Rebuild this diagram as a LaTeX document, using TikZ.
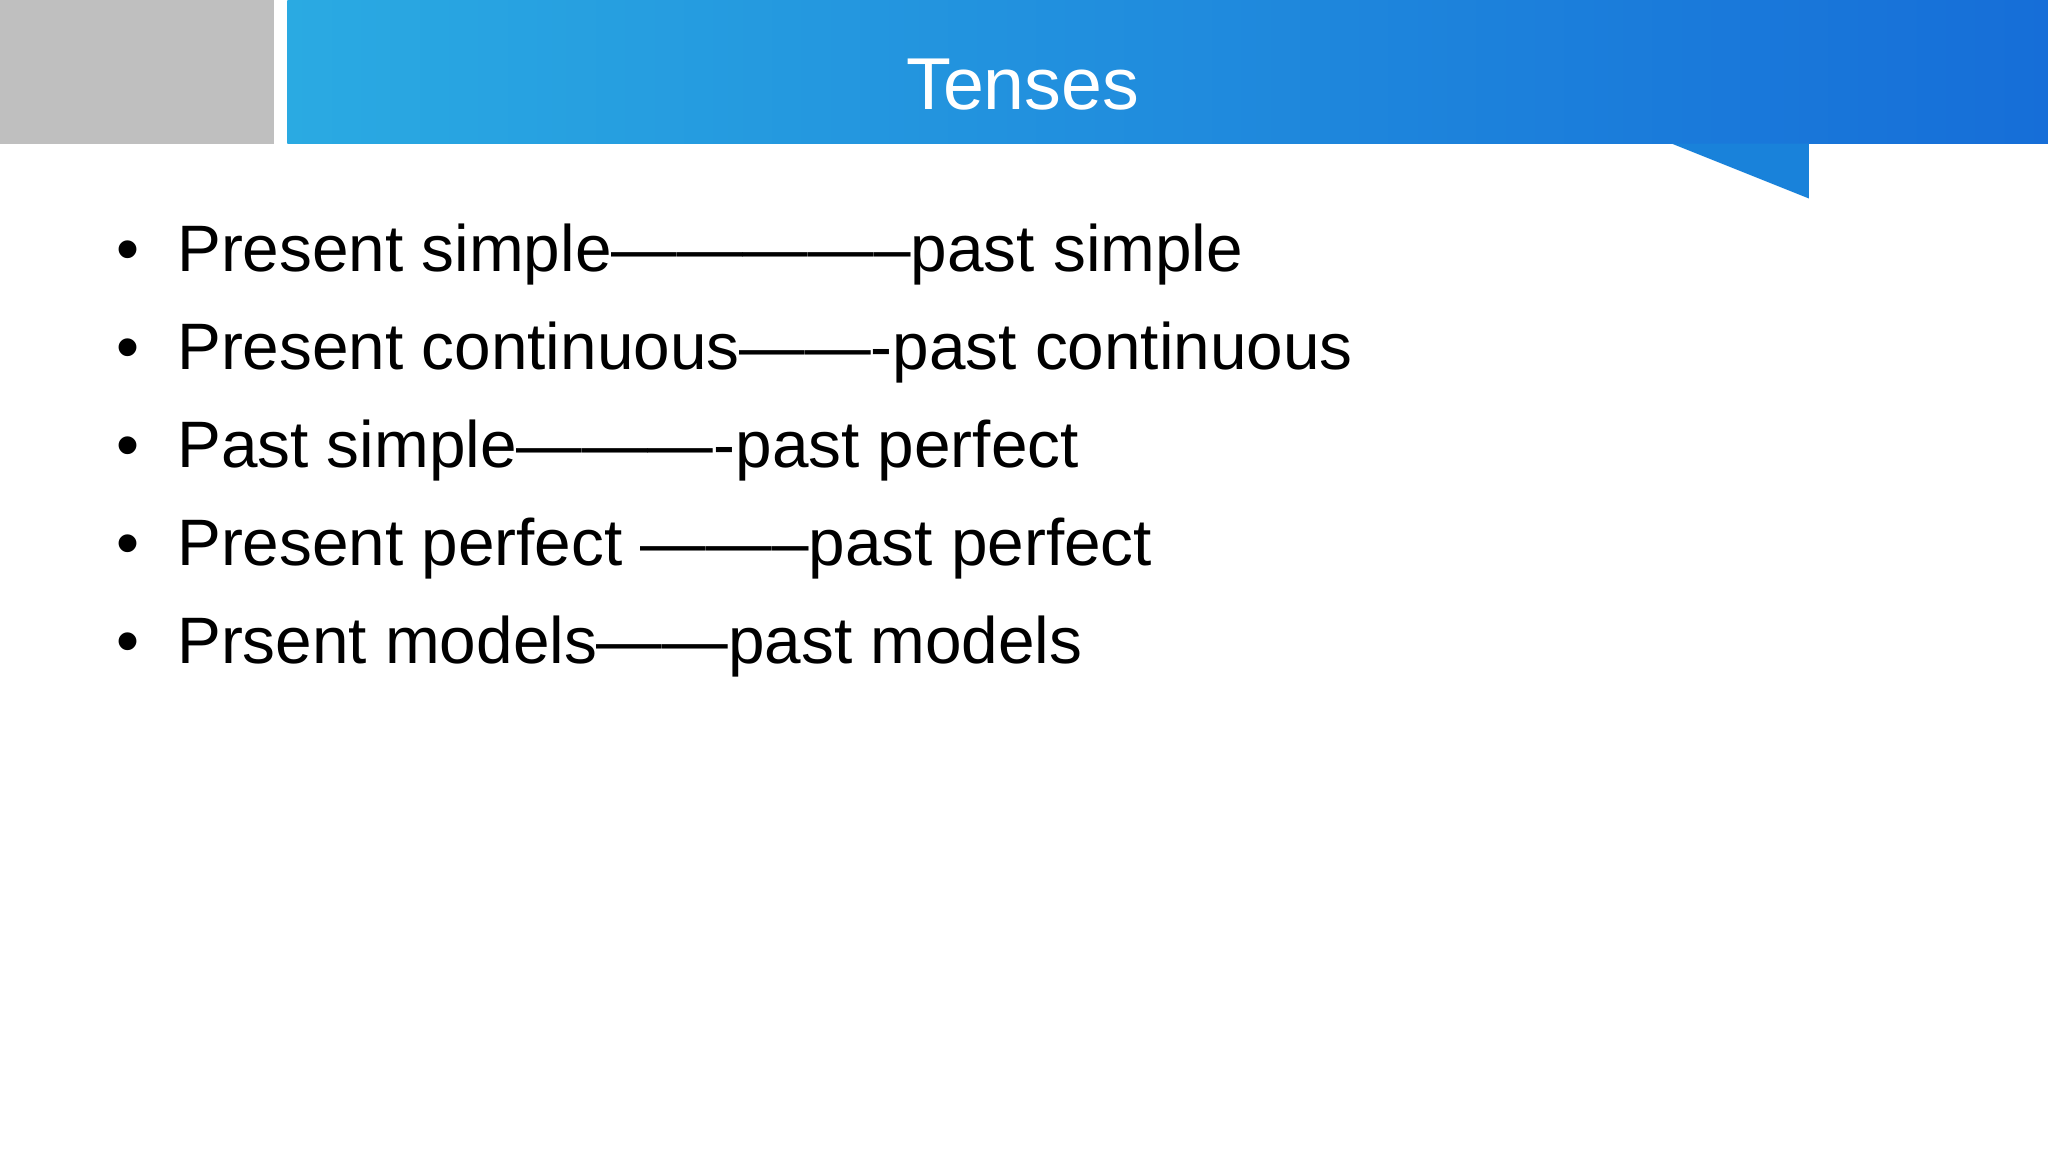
\documentclass[tikz,border=0pt]{standalone}
\usepackage{fontspec}
\setmainfont{Liberation Sans}
\definecolor{bleft}{RGB}{42,170,226}
\definecolor{bright}{RGB}{22,110,216}
\definecolor{btab}{RGB}{25,130,218}
\begin{document}
\begin{tikzpicture}[x=0.01cm,y=-0.01cm,
  item/.style={anchor=base west,inner sep=0pt,font=\fontsize{14.3pt}{16pt}\selectfont},
  bul/.style={anchor=base,inner sep=0pt,font=\fontsize{14.3pt}{16pt}\selectfont}]
\useasboundingbox (0,0) rectangle (1568,882);
\fill[white] (0,0) rectangle (1568,882);
\fill[gray!50] (0,0) rectangle (210,110);
\shade[left color=bleft, right color=bright] (220,0) rectangle (1568,110);
\fill[btab] (1280,110) -- (1385,152) -- (1385,110) -- cycle;
\node[white,font=\fontsize{16pt}{18pt}\selectfont] (title) at (783,65) {Tenses};
\foreach \y/\t [count=\i] in {208/{Present simple--------------past simple},
  283/{Present continuous-------past continuous},
  358/{Past simple----------past perfect},
  433/{Present perfect --------past perfect},
  508/{Prsent models------past models}}{
  \node[bul] (b\i) at (98,\y) {\textbullet};
  \node[item] (t\i) at (135,\y) {\t};
}
\end{tikzpicture}
\end{document}
